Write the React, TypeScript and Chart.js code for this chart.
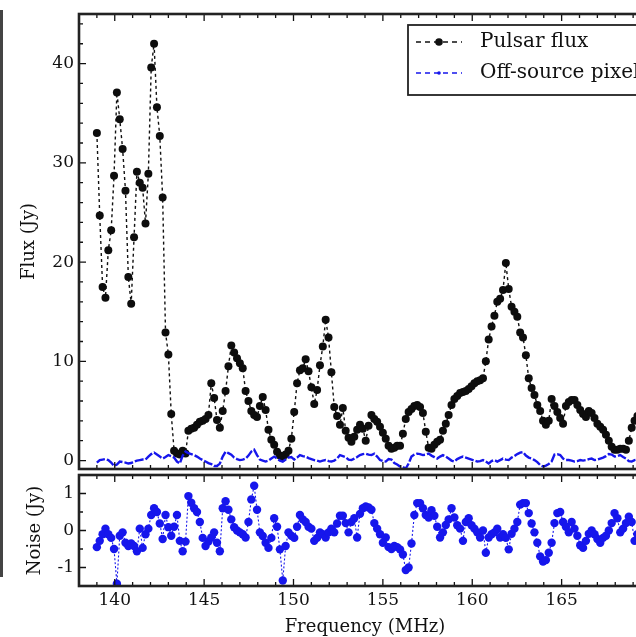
import React, { useEffect, useRef } from "react";
import { Chart, registerables } from "chart.js";

Chart.register(...registerables);

// Channel centre frequencies (MHz)
const FREQ = [
  139.00, 139.16, 139.32, 139.48, 139.64, 139.80, 139.96, 140.12, 140.28, 140.44,
  140.60, 140.76, 140.92, 141.08, 141.24, 141.40, 141.56, 141.72, 141.88, 142.04,
  142.20, 142.36, 142.52, 142.68, 142.84, 143.00, 143.16, 143.32, 143.48, 143.64,
  143.80, 143.96, 144.12, 144.28, 144.44, 144.60, 144.76, 144.92, 145.08, 145.24,
  145.40, 145.56, 145.72, 145.88, 146.04, 146.20, 146.36, 146.52, 146.68, 146.84,
  147.00, 147.16, 147.32, 147.48, 147.64, 147.80, 147.96, 148.12, 148.28, 148.44,
  148.60, 148.76, 148.92, 149.08, 149.24, 149.40, 149.56, 149.72, 149.88, 150.04,
  150.20, 150.36, 150.52, 150.68, 150.84, 151.00, 151.16, 151.32, 151.48, 151.64,
  151.80, 151.96, 152.12, 152.28, 152.44, 152.60, 152.76, 152.92, 153.08, 153.24,
  153.40, 153.56, 153.72, 153.88, 154.04, 154.20, 154.36, 154.52, 154.68, 154.84,
  155.00, 155.16, 155.32, 155.48, 155.64, 155.80, 155.96, 156.12, 156.28, 156.44,
  156.60, 156.76, 156.92, 157.08, 157.24, 157.40, 157.56, 157.72, 157.88, 158.04,
  158.20, 158.36, 158.52, 158.68, 158.84, 159.00, 159.16, 159.32, 159.48, 159.64,
  159.80, 159.96, 160.12, 160.28, 160.44, 160.60, 160.76, 160.92, 161.08, 161.24,
  161.40, 161.56, 161.72, 161.88, 162.04, 162.20, 162.36, 162.52, 162.68, 162.84,
  163.00, 163.16, 163.32, 163.48, 163.64, 163.80, 163.96, 164.12, 164.28, 164.44,
  164.60, 164.76, 164.92, 165.08, 165.24, 165.40, 165.56, 165.72, 165.88, 166.04,
  166.20, 166.36, 166.52, 166.68, 166.84, 167.00, 167.16, 167.32, 167.48, 167.64,
  167.80, 167.96, 168.12, 168.28, 168.44, 168.60, 168.76, 168.92, 169.08, 169.24,
  169.40, 169.56,
];

// Pulsar flux (Jy)
const PULSAR_FLUX = [
  33.0, 24.7, 17.5, 16.4, 21.2, 23.2, 28.7, 37.1, 34.4, 31.4,
  27.2, 18.5, 15.8, 22.5, 29.1, 28.0, 27.5, 23.9, 28.9, 39.6,
  42.0, 35.6, 32.7, 26.5, 12.9, 10.7, 4.7, 1.0, 0.7, 0.6,
  1.0, 0.7, 3.0, 3.2, 3.3, 3.6, 3.9, 4.0, 4.2, 4.6,
  7.8, 6.3, 4.1, 3.3, 5.0, 7.0, 9.5, 11.6, 10.9, 10.3,
  9.8, 9.3, 7.0, 6.0, 5.0, 4.6, 4.4, 5.5, 6.4, 5.1,
  3.1, 2.1, 1.6, 0.9, 0.5, 0.3, 0.6, 1.0, 2.2, 4.9,
  7.8, 9.1, 9.3, 10.2, 9.0, 7.4, 5.7, 7.1, 9.6, 11.5,
  14.2, 12.4, 8.9, 5.4, 4.5, 3.6, 5.3, 3.0, 2.3, 1.9,
  2.4, 3.1, 3.6, 3.2, 2.0, 3.5, 4.6, 4.2, 3.9, 3.4,
  2.8, 2.2, 1.5, 1.2, 1.3, 1.5, 1.5, 2.7, 4.2, 4.9,
  5.2, 5.5, 5.6, 5.4, 4.8, 2.9, 1.3, 1.2, 1.6, 1.9,
  2.1, 3.0, 3.7, 4.6, 5.6, 6.2, 6.5, 6.8, 6.9, 7.0,
  7.2, 7.5, 7.8, 8.0, 8.1, 8.3, 10.0, 12.2, 13.5, 14.6,
  16.0, 16.3, 17.2, 19.9, 17.3, 15.5, 15.0, 14.5, 12.9, 12.4,
  10.6, 8.3, 7.3, 6.6, 5.6, 5.0, 4.0, 3.6, 4.0, 6.2,
  5.5, 4.9, 4.3, 3.7, 5.5, 5.9, 6.1, 6.1, 5.6, 5.1,
  4.7, 4.4, 5.0, 4.8, 4.3, 3.7, 3.4, 3.1, 2.6, 2.0,
  1.4, 1.1, 1.1, 1.2, 1.2, 1.1, 2.0, 3.3, 4.0, 4.5,
  4.8, 5.0,
];

// Off-source pixel flux (Jy)
const OFF_SOURCE = [
  -0.2, 0.05, 0.1, 0.15, 0.05, -0.2, -0.55, -0.4, -0.1, -0.15,
  -0.2, -0.3, -0.25, -0.1, 0.0, 0.05, 0.1, 0.1, 0.4, 0.65,
  0.8, 0.6, 0.4, 0.2, 0.35, 0.55, 0.45, 0.3, -0.1, -0.3,
  0.5, 0.9, 0.75, 0.65, 0.55, 0.4, 0.2, 0.05, -0.1, -0.25,
  -0.35, -0.55, -0.55, -0.3, 0.4, 0.9, 0.75, 0.6, 0.3, 0.15,
  0.05, 0.1, 0.2, 0.5, 0.9, 1.1, 0.55, 0.1, 0.0, -0.1,
  0.0, 0.2, 0.4, 0.2, 0.0, -0.1, 0.1, 0.3, 0.35, 0.1,
  0.3, 0.55, 0.45, 0.4, 0.25, 0.15, 0.05, 0.0, -0.1, 0.0,
  0.05, -0.05, -0.1, 0.0, 0.2, 0.55, 0.45, 0.35, 0.1, 0.05,
  0.2, 0.35, 0.55, 0.65, 0.7, 0.6, 0.55, 0.7, 0.4, 0.05,
  -0.05, -0.1, 0.15, 0.1, -0.25, -0.4, -0.6, -0.65, -0.8, -0.3,
  0.4, 0.6, 0.7, 0.65, 0.55, 0.6, 0.7, 0.5, 0.35, 0.2,
  0.4, 0.55, 0.4, 0.2, 0.0, -0.1, 0.15, 0.3, 0.4, 0.3,
  0.2, 0.1, 0.0, -0.1, -0.05, 0.05, -0.1, -0.3, -0.05, 0.05,
  -0.1, 0.05, 0.2, 0.1, 0.05, 0.3, 0.45, 0.65, 0.8, 0.85,
  0.5, 0.3, 0.2, 0.05, -0.15, -0.45, -0.6, -0.5, -0.35, -0.1,
  0.6, 0.65, 0.55, 0.2, 0.05, 0.05, 0.0, -0.1, -0.05, 0.05,
  0.0, 0.05, 0.15, 0.2, 0.05, 0.1, 0.2, 0.3, 0.45, 0.65,
  0.6, 0.4, 0.45, 0.55, 0.35, 0.2, -0.05, -0.1, 0.05, 0.1,
  0.0, 0.05,
];

// Noise (Jy)
const NOISE = [
  -0.45, -0.28, -0.1, 0.05, -0.1, -0.2, -0.5, -1.44, -0.14, -0.05,
  -0.33, -0.42, -0.35, -0.42, -0.56, 0.05, -0.47, -0.1, 0.05, 0.42,
  0.6, 0.5, 0.19, -0.23, 0.42, 0.09, -0.14, 0.1, 0.42, -0.28,
  -0.56, -0.3, 0.93, 0.75, 0.6, 0.5, 0.23, -0.2, -0.42, -0.3,
  -0.19, -0.05, -0.33, -0.56, 0.6, 0.79, 0.56, 0.3, 0.09, 0.0,
  -0.05, -0.1, -0.19, 0.23, 0.84, 1.21, 0.56, -0.05, -0.15, -0.33,
  -0.47, -0.2, 0.33, 0.1, -0.51, -1.35, -0.42, -0.05, -0.14, -0.2,
  0.1, 0.42, 0.3, 0.23, 0.1, 0.05, -0.28, -0.2, -0.05, -0.1,
  -0.19, -0.05, 0.05, -0.05, 0.19, 0.4, 0.4, 0.2, -0.05, 0.23,
  0.33, -0.19, 0.45, 0.6, 0.65, 0.62, 0.56, 0.2, 0.05, -0.1,
  -0.33, -0.19, -0.45, -0.5, -0.42, -0.45, -0.51, -0.65, -1.07, -1.0,
  -0.35, 0.42, 0.74, 0.74, 0.6, 0.42, 0.35, 0.55, 0.4, 0.1,
  -0.19, -0.05, 0.15, 0.3, 0.6, 0.35, 0.14, 0.05, -0.28, 0.23,
  0.33, 0.14, 0.05, -0.05, -0.19, 0.0, -0.6, -0.19, -0.1, -0.05,
  0.05, -0.19, -0.1, -0.2, -0.51, -0.09, 0.05, 0.23, 0.7, 0.74,
  0.74, 0.47, 0.19, -0.05, -0.33, -0.7, -0.84, -0.8, -0.6, -0.33,
  0.2, 0.47, 0.5, 0.23, 0.1, -0.05, 0.23, 0.05, -0.14, -0.4,
  -0.47, -0.28, -0.09, 0.0, -0.1, -0.23, -0.33, -0.2, -0.14, 0.0,
  0.2, 0.47, 0.33, -0.05, 0.05, 0.2, 0.37, 0.23, -0.28, -0.1,
  0.1, 0.0,
];

const X_TICKS = [140, 145, 150, 155, 160, 165];
const FLUX_TICKS = [0, 10, 20, 30, 40];
const NOISE_TICKS = [-1, 0, 1];

const SERIF = '"DejaVu Serif", "Liberation Serif", serif';
const INK = "#111111";
const BLUE = "rgb(22, 22, 236)";

const frameTicks = {
  id: "frameTicks",
  afterDatasetsDraw(chart: any, _args: any, opts: any) {
    const { ctx, chartArea: a, scales } = chart;
    const xs = scales.x;
    const ys = scales.y;
    ctx.save();
    ctx.strokeStyle = INK;
    ctx.lineWidth = 1.3;
    ctx.beginPath();
    for (let v = Math.ceil(xs.min); v <= xs.max; v += 1) {
      const px = xs.getPixelForValue(v);
      const len = v % 5 === 0 ? 7 : 4;
      ctx.moveTo(px, a.bottom);
      ctx.lineTo(px, a.bottom - len);
      ctx.moveTo(px, a.top);
      ctx.lineTo(px, a.top + len);
    }
    const step = opts.yMinorStep;
    for (let k = Math.ceil(ys.min / step); k * step <= ys.max + 1e-9; k++) {
      const v = k * step;
      const py = ys.getPixelForValue(v);
      const r = v / opts.yMajorStep;
      const len = Math.abs(r - Math.round(r)) < 1e-6 ? 7 : 4;
      ctx.moveTo(a.left, py);
      ctx.lineTo(a.left + len, py);
      ctx.moveTo(a.right, py);
      ctx.lineTo(a.right - len, py);
    }
    ctx.stroke();
    ctx.strokeStyle = "#222";
    ctx.lineWidth = 2.6;
    ctx.strokeRect(a.left, a.top, a.right - a.left, a.bottom - a.top);
    ctx.restore();
  },
};

const legendBox = {
  id: "legendBox",
  afterDraw(chart: any) {
    const { ctx, chartArea: a } = chart;
    const left = a.left + 329;
    const top = a.top + 11;
    const width = 245;
    const height = 70;
    ctx.save();
    ctx.fillStyle = "#fff";
    ctx.fillRect(left, top, width, height);
    ctx.strokeStyle = "#222";
    ctx.lineWidth = 1.8;
    ctx.strokeRect(left, top, width, height);
    chart.data.datasets.forEach((ds: any, i: number) => {
      const y = top + 17 + i * 31;
      ctx.strokeStyle = ds.borderColor;
      ctx.lineWidth = 1.4;
      ctx.setLineDash([5, 4]);
      ctx.beginPath();
      ctx.moveTo(left + 8, y);
      ctx.lineTo(left + 54, y);
      ctx.stroke();
      ctx.setLineDash([]);
      ctx.fillStyle = ds.borderColor;
      ctx.beginPath();
      ctx.arc(left + 31, y, ds.legendMarker, 0, Math.PI * 2);
      ctx.fill();
      ctx.fillStyle = INK;
      ctx.font = `20px ${SERIF}`;
      ctx.textBaseline = "middle";
      ctx.textAlign = "left";
      ctx.fillText(ds.label, left + 72, y);
    });
    ctx.restore();
  },
};

const fixWidth = (s: any) => {
  s.width = 79;
  s.paddingTop = 0;
  s.paddingBottom = 0;
};

export default function App() {
  const topRef = useRef<HTMLCanvasElement>(null);
  const botRef = useRef<HTMLCanvasElement>(null);

  useEffect(() => {
    const tickFont = { family: SERIF, size: 17 };
    const titleFont = { family: SERIF, size: 18 };

    const top = new Chart(topRef.current as HTMLCanvasElement, {
      type: "line",
      data: {
        datasets: [
          {
            label: "Pulsar flux",
            data: FREQ.map((f, i) => ({ x: f, y: PULSAR_FLUX[i] })),
            borderColor: INK,
            borderWidth: 1.4,
            borderDash: [3, 3],
            pointRadius: 4,
            pointBackgroundColor: "#0d0d0d",
            pointBorderColor: "#0d0d0d",
            pointBorderWidth: 0,
            tension: 0,
            order: 1,
            legendMarker: 3.8,
          } as any,
          {
            label: "Off-source pixel",
            data: FREQ.map((f, i) => ({ x: f, y: OFF_SOURCE[i] })),
            borderColor: BLUE,
            borderWidth: 2.4,
            borderDash: [9, 2],
            pointRadius: 0,
            tension: 0,
            order: 0,
            legendMarker: 1.8,
          } as any,
        ],
      },
      options: {
        responsive: false,
        animation: false,
        devicePixelRatio: 1,
        events: [],
        layout: { autoPadding: false, padding: { left: 0, top: 14, right: 49, bottom: 3 } },
        plugins: {
          legend: { display: false },
          tooltip: { enabled: false },
          frameTicks: { yMinorStep: 2, yMajorStep: 10 },
        } as any,
        scales: {
          x: { type: "linear", min: 138, max: 170, display: false },
          y: {
            type: "linear",
            min: -0.85,
            max: 45,
            afterFit: fixWidth,
            afterBuildTicks: (s: any) => {
              s.ticks = FLUX_TICKS.map((v) => ({ value: v }));
            },
            grid: { display: false, drawTicks: false },
            border: { display: false },
            ticks: { color: INK, font: tickFont, padding: 5 },
            title: {
              display: true,
              text: "Flux (Jy)",
              color: INK,
              font: titleFont,
              padding: { top: 19, bottom: 0 },
            },
          },
        },
      } as any,
      plugins: [frameTicks, legendBox],
    });

    const bot = new Chart(botRef.current as HTMLCanvasElement, {
      type: "line",
      data: {
        datasets: [
          {
            label: "Noise",
            data: FREQ.map((f, i) => ({ x: f, y: NOISE[i] })),
            borderColor: BLUE,
            borderWidth: 1.1,
            borderDash: [2, 2],
            pointRadius: 4.2,
            pointBackgroundColor: BLUE,
            pointBorderColor: BLUE,
            pointBorderWidth: 0,
            tension: 0,
          },
        ],
      },
      options: {
        responsive: false,
        animation: false,
        devicePixelRatio: 1,
        events: [],
        layout: { autoPadding: false, padding: { left: 0, top: 3, right: 49, bottom: 0 } },
        plugins: {
          legend: { display: false },
          tooltip: { enabled: false },
          frameTicks: { yMinorStep: 0.5, yMajorStep: 1 },
        } as any,
        scales: {
          x: {
            type: "linear",
            min: 138,
            max: 170,
            position: "bottom",
            afterFit: (s: any) => {
              s.height = 51;
              s.paddingLeft = 0;
              s.paddingRight = 0;
            },
            afterBuildTicks: (s: any) => {
              s.ticks = X_TICKS.map((v) => ({ value: v }));
            },
            grid: { display: false, drawTicks: false },
            border: { display: false },
            ticks: { color: INK, font: tickFont, padding: 4, maxRotation: 0, autoSkip: false },
            title: {
              display: true,
              text: "Frequency (MHz)",
              color: INK,
              font: titleFont,
              padding: { top: 0, bottom: -1 },
            },
          },
          y: {
            type: "linear",
            min: -1.5,
            max: 1.5,
            afterFit: fixWidth,
            afterBuildTicks: (s: any) => {
              s.ticks = NOISE_TICKS.map((v) => ({ value: v }));
            },
            grid: { display: false, drawTicks: false },
            border: { display: false },
            ticks: { color: INK, font: tickFont, padding: 5 },
            title: {
              display: true,
              text: "Noise (Jy)",
              color: INK,
              font: titleFont,
              padding: { top: 25, bottom: 0 },
            },
          },
        },
      } as any,
      plugins: [frameTicks],
    });

    return () => {
      top.destroy();
      bot.destroy();
    };
  }, []);

  return (
    <div
      style={{
        position: "fixed",
        left: 0,
        top: 0,
        width: 636,
        height: 637,
        overflow: "hidden",
        background: "#fff",
      }}
    >
      <div
        style={{
          position: "absolute",
          left: 0,
          top: 10,
          width: 3,
          height: 567,
          background: "#444",
        }}
      />
      <canvas
        ref={topRef}
        width={700}
        height={472}
        style={{ position: "absolute", left: 0, top: 0, width: 700, height: 472 }}
      />
      <canvas
        ref={botRef}
        width={700}
        height={165}
        style={{ position: "absolute", left: 0, top: 472, width: 700, height: 165 }}
      />
    </div>
  );
}
